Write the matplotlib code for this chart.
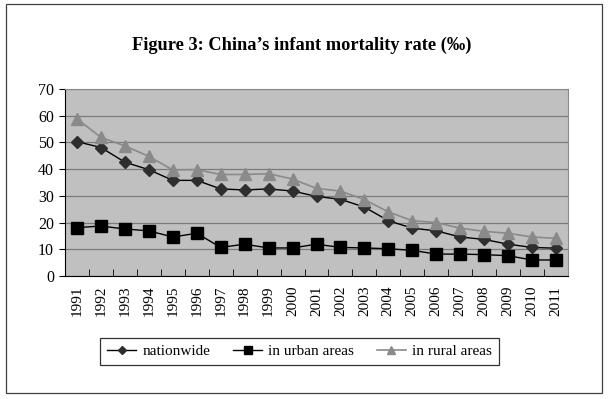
import numpy as np
import matplotlib.pyplot as plt
from matplotlib.patches import Rectangle

plt.rcParams['font.family'] = ['Liberation Serif', 'DejaVu Serif']

# Values
years = [str(y) for y in range(1991, 2012)]
nationwide = [50.3, 48.1, 42.6, 39.8, 35.8, 35.8, 32.6, 32.2, 32.6, 31.8,
              29.8, 28.7, 25.8, 20.7, 17.9, 16.9, 14.6, 13.7, 11.9, 10.7, 10.4]
urban = [18.1, 18.7, 17.6, 16.9, 14.6, 16.0, 10.7, 11.9, 10.5, 10.5,
         11.9, 10.7, 10.5, 10.2, 9.6, 8.2, 8.2, 8.0, 7.6, 6.0, 6.0]
rural = [58.8, 51.9, 48.7, 44.8, 39.7, 39.8, 38.0, 38.0, 38.3, 36.3,
         32.8, 31.8, 28.6, 24.0, 20.7, 20.0, 17.9, 16.7, 16.0, 14.6, 14.1]

fig = plt.figure(figsize=(6.09, 3.99), dpi=100)
fig.patches.append(Rectangle((6 / 609, 6 / 399), 596 / 609, 389 / 399,
                             transform=fig.transFigure, fill=False,
                             edgecolor='#404040', linewidth=0.9))

ax = fig.add_axes([65 / 609, 1 - 276 / 399, 503 / 609, 187 / 399])
ax.set_facecolor('#c0c0c0')

x = np.arange(len(years))
ax.plot(x, nationwide, color='black', lw=1.0, marker='D', ms=6,
        mfc='#2e2e2e', mec='#2e2e2e', label='nationwide', zorder=3)
ax.plot(x, urban, color='black', lw=1.0, marker='s', ms=8,
        mfc='black', mec='black', label='in urban areas', zorder=3)
ax.plot(x, rural, color='#8a8a8a', lw=1.2, marker='^', ms=8,
        mfc='#8a8a8a', mec='#8a8a8a', label='in rural areas', zorder=3)

ax.set_xlim(-0.5, len(years) - 0.5)
ax.set_ylim(0, 70)
ax.set_yticks(range(0, 71, 10))
ax.yaxis.grid(True, color='#7a7a7a', lw=0.9)
ax.set_axisbelow(True)

ax.set_xticks(x)
ax.set_xticklabels(years, rotation=90, fontsize=11)
ax.tick_params(axis='x', length=0, pad=7)
ax.set_xticks(np.arange(-0.5, len(years)), minor=True)
ax.tick_params(axis='x', which='minor', direction='in', length=5, color='black')
ax.tick_params(axis='y', labelsize=11.5, length=4, direction='out', pad=4)

for s in ['top', 'right']:
    ax.spines[s].set_color('#8a8a8a')
for s in ['left', 'bottom']:
    ax.spines[s].set_color('black')

fig.text(0.495, 1 - 45 / 399, 'Figure 3: China\u2019s infant mortality rate (\u2030)',
         ha='center', va='center', fontsize=13.2, fontweight='bold')

leg = fig.legend(loc='center', bbox_to_anchor=(299.5 / 609, 1 - 351.5 / 399), ncol=3,
                 fontsize=11, frameon=True, fancybox=False, edgecolor='black',
                 handlelength=1.9, handletextpad=0.4, columnspacing=1.5,
                 borderpad=0.45, markerscale=0.7)
leg.get_frame().set_linewidth(0.9)

fig.savefig('out.png', dpi=100)
